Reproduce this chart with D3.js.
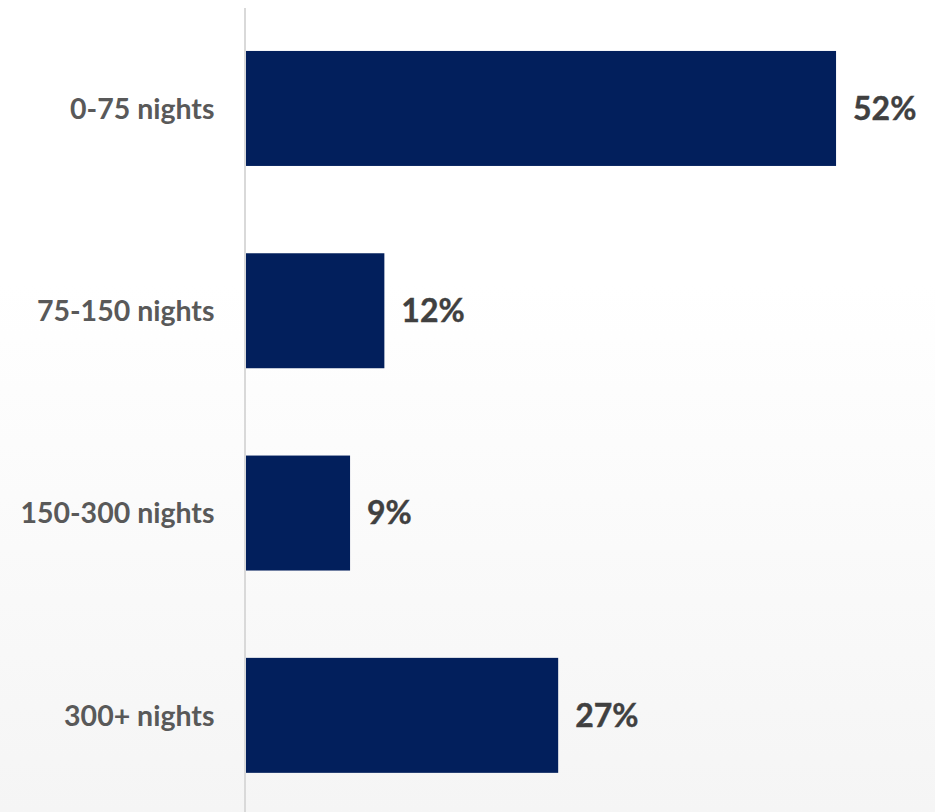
<!DOCTYPE html>
<html>
<head>
<meta charset="utf-8">
<script src="https://cdn.jsdelivr.net/npm/d3@7"></script>
<style>
  html, body { margin: 0; padding: 0; background: #ffffff; }
  svg { display: block; }
</style>
</head>
<body>
<div id="chart"></div>
<script>
const categories = ["0-75 nights", "75-150 nights", "150-300 nights", "300+ nights"];
const values = [51.6, 12.1, 9.1, 27.3];
const valueLabels = ["52%", "12%", "9%", "27%"];

const W = 935, H = 812;
const svg = d3.select("#chart").append("svg")
  .attr("width", W).attr("height", H);

const defs = svg.append("defs");
const grad = defs.append("linearGradient")
  .attr("id", "bg").attr("x1", 0).attr("y1", 0).attr("x2", 0).attr("y2", 1);
grad.append("stop").attr("offset", "0%").attr("stop-color", "#ffffff");
grad.append("stop").attr("offset", "35%").attr("stop-color", "#ffffff");
grad.append("stop").attr("offset", "100%").attr("stop-color", "#f5f5f5");
svg.append("rect").attr("width", W).attr("height", H).attr("fill", "url(#bg)");

const x0 = 246;
const x = d3.scaleLinear().domain([0, 60]).range([x0, x0 + 60 * 11.435]);
const y = d3.scaleBand().domain(categories).range([7.3, 816.5])
  .paddingInner(0.4316).paddingOuter(0.2158);

// bars
svg.append("g").selectAll("rect")
  .data(categories)
  .join("rect")
  .attr("x", x(0))
  .attr("y", d => y(d))
  .attr("width", (d, i) => x(values[i]) - x(0))
  .attr("height", y.bandwidth())
  .attr("fill", "#021f5c");

// axis line
svg.append("line")
  .attr("x1", x(0) - 1).attr("x2", x(0) - 1)
  .attr("y1", 8).attr("y2", H)
  .attr("stroke", "#d9d9d9").attr("stroke-width", 2);

// category labels
const catSize = 28.5;
svg.append("g").selectAll("text")
  .data(categories)
  .join("text")
  .attr("x", 214.5)
  .attr("y", d => y(d) + y.bandwidth() / 2 + catSize * 0.36)
  .attr("text-anchor", "end")
  .attr("font-family", "Lato, 'Open Sans', sans-serif")
  .attr("font-weight", 700)
  .attr("font-size", catSize)
  .attr("fill", "#595959")
  .text(d => d);

// value labels
const valSize = 32;
svg.append("g").selectAll("text")
  .data(categories)
  .join("text")
  .attr("x", (d, i) => x(values[i]) + 17)
  .attr("y", d => y(d) + y.bandwidth() / 2 + valSize * 0.355)
  .attr("text-anchor", "start")
  .attr("font-family", "Lato, 'Open Sans', sans-serif")
  .attr("font-weight", 700)
  .attr("font-size", valSize)
  .attr("fill", "#404040")
  .attr("stroke", "#404040")
  .attr("stroke-width", 0.4)
  .text((d, i) => valueLabels[i]);
</script>
</body>
</html>
